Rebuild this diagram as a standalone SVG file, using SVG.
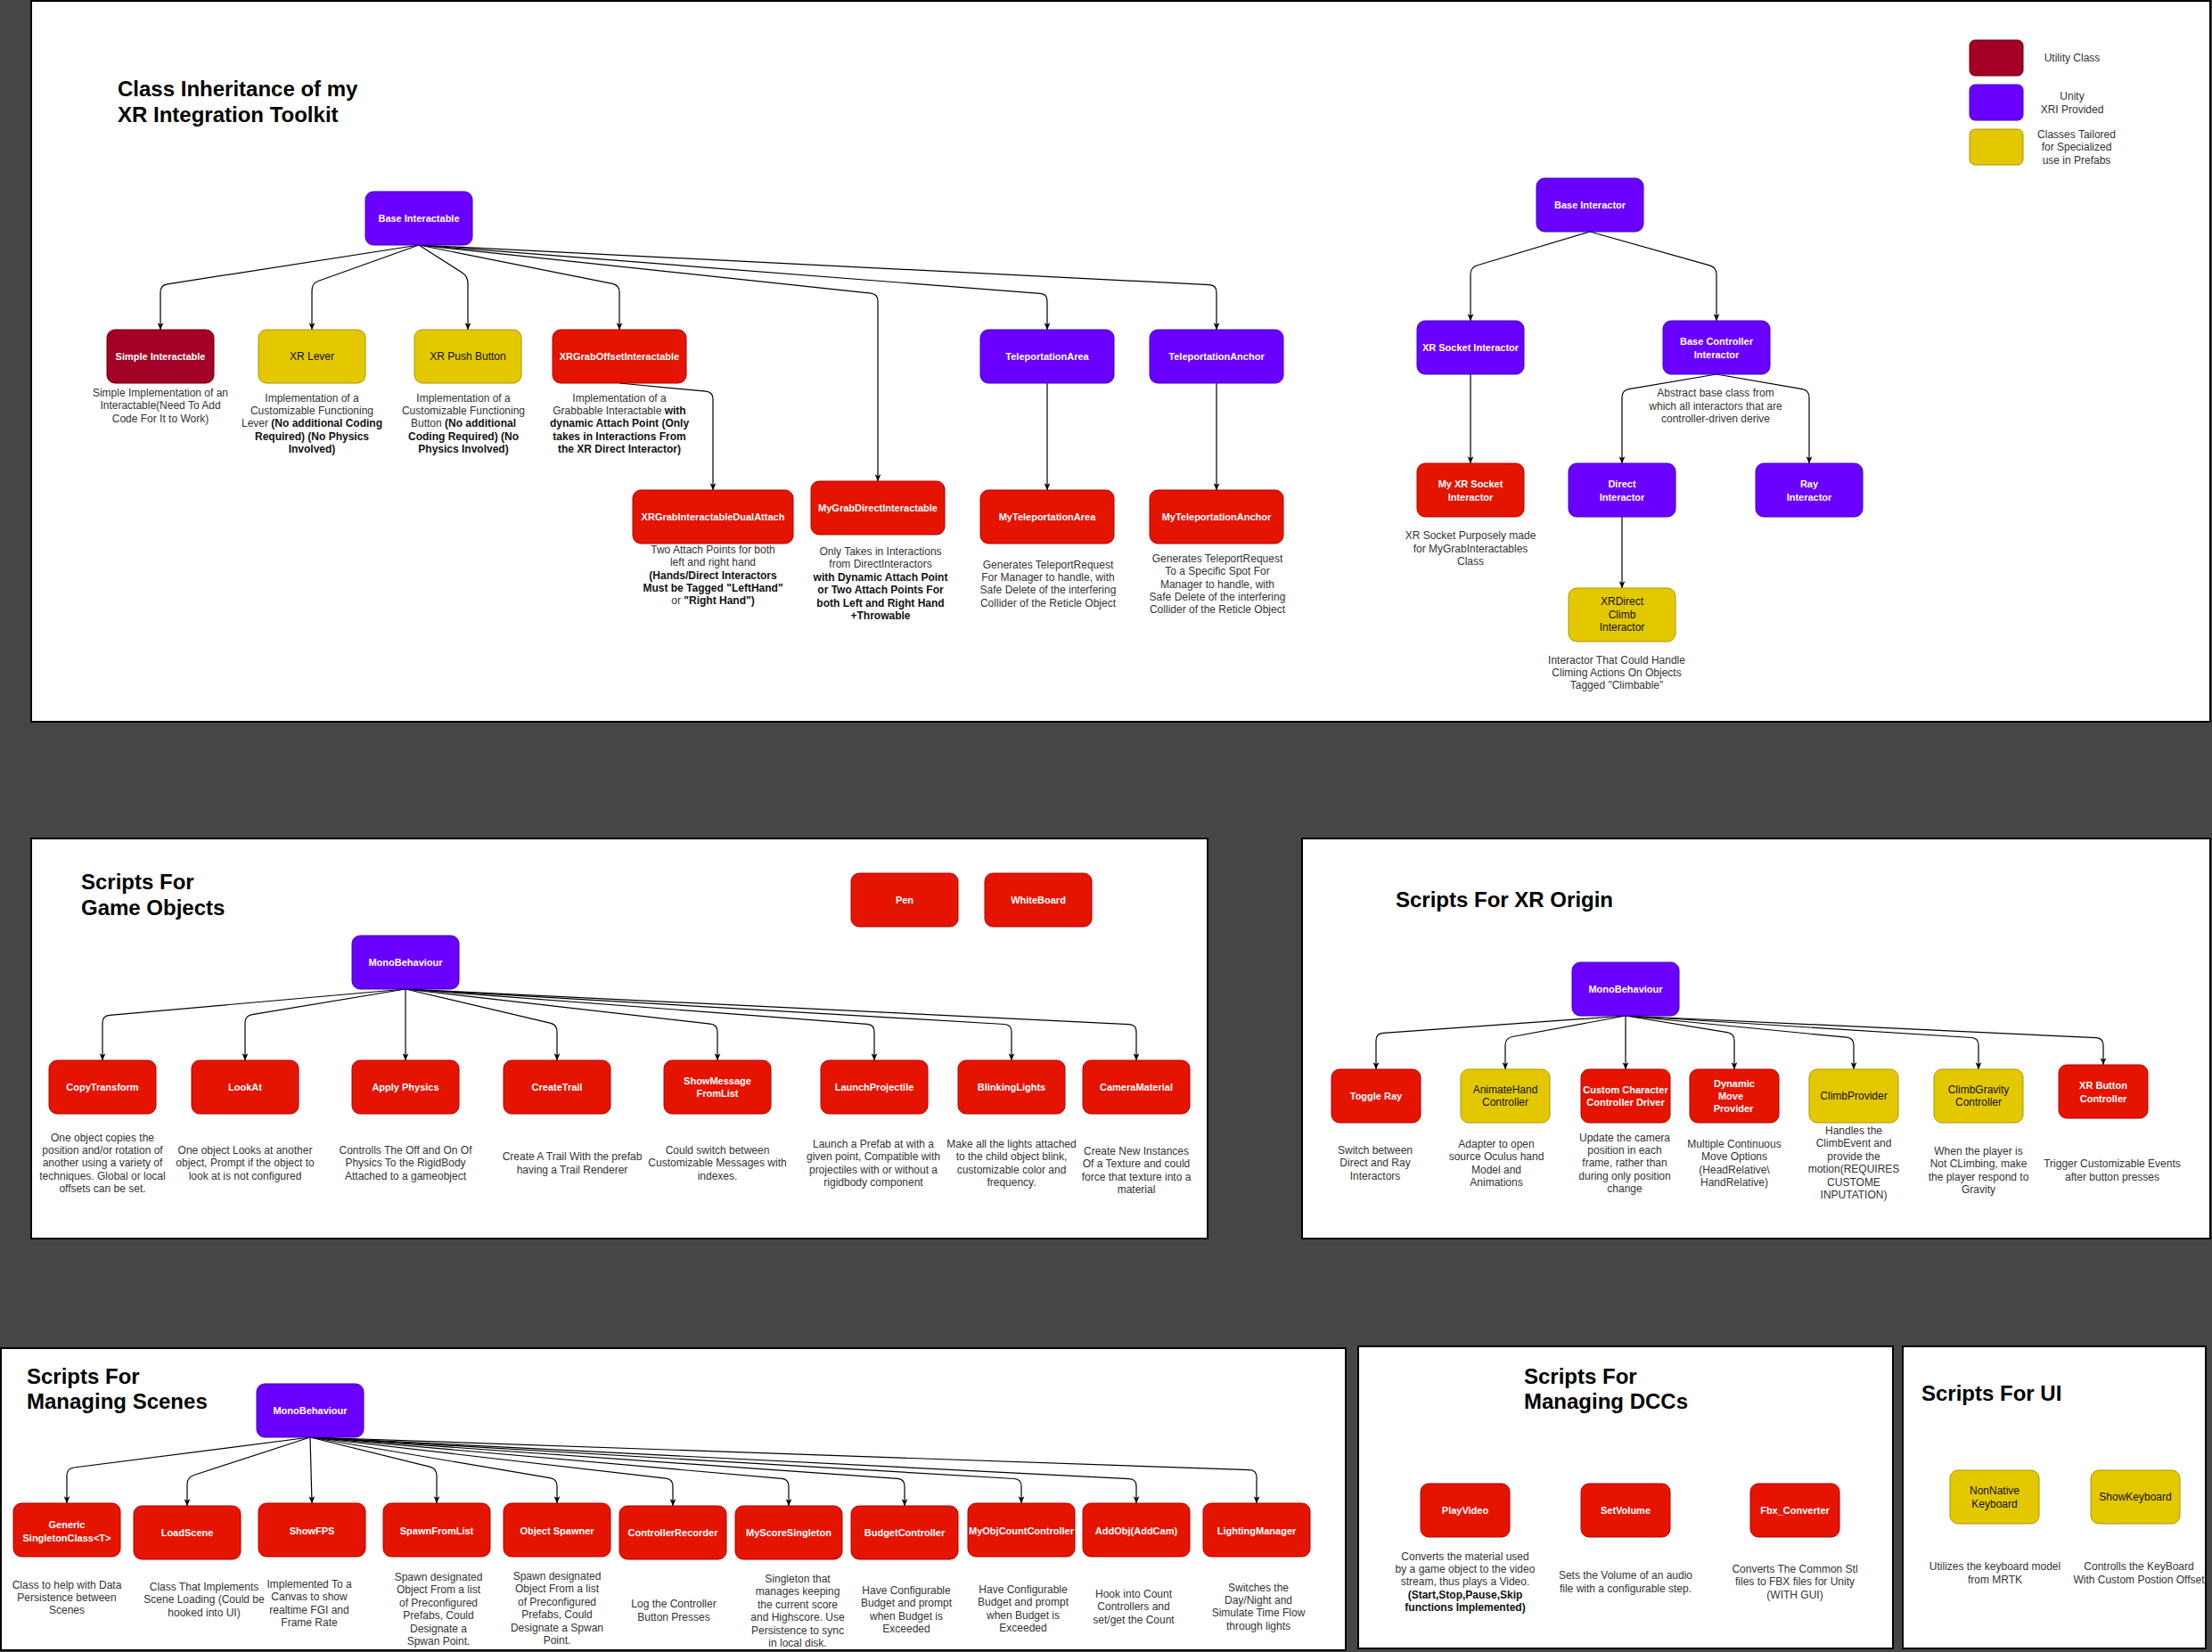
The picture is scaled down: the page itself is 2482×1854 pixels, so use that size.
<svg xmlns="http://www.w3.org/2000/svg" width="2482" height="1854" viewBox="0 0 2482 1854">
<defs>
<style>
text{font-family:"Liberation Sans",Arial,Helvetica,sans-serif}
.panel{fill:#fff;stroke:#000;stroke-width:2}
.purple{fill:#6a00ff;stroke:#3700cc;stroke-width:1}
.red{fill:#e51400;stroke:#b20000;stroke-width:1}
.dred{fill:#a20025;stroke:#6f0000;stroke-width:1}
.yel{fill:#e3c800;stroke:#b09500;stroke-width:1}
.lw{font-size:11px;font-weight:bold;fill:#fff;text-anchor:middle;dominant-baseline:central}
.lk{font-size:12px;fill:#111;text-anchor:middle;dominant-baseline:central}
.d{font-size:12px;fill:#333;text-anchor:middle}
.b{font-weight:bold;fill:#111}
.t{font-size:24px;font-weight:bold;fill:#000}
.lg{font-size:12px;fill:#333;text-anchor:middle}
.e{fill:none;stroke:#000;stroke-width:1.2;marker-end:url(#arr)}
</style>
<marker id="arr" viewBox="0 0 10 10" refX="9.6" refY="5" markerWidth="8" markerHeight="8" markerUnits="userSpaceOnUse" orient="auto">
<path d="M0,0.8 L10,5 L0,9.2 L2.5,5 z" fill="#000"/>
</marker>
</defs>

<rect width="2482" height="1854" fill="#464646"/>

<!-- section panels -->
<g id="panels">
<rect class="panel" x="35" y="1" width="2445" height="809"/>
<rect class="panel" x="35" y="941" width="1320" height="449"/>
<rect class="panel" x="1461" y="941" width="1019" height="449"/>
<rect class="panel" x="1" y="1513" width="1509" height="339"/>
<rect class="panel" x="1524" y="1511" width="600" height="339"/>
<rect class="panel" x="2135" y="1511" width="340" height="339"/>
</g>

<!-- section titles -->
<g id="titles">
<text class="t" x="132" y="108">Class Inheritance of my</text>
<text class="t" x="132" y="137">XR Integration Toolkit</text>
<text class="t" x="91" y="998">Scripts For</text>
<text class="t" x="91" y="1027">Game Objects</text>
<text class="t" x="1566" y="1018">Scripts For XR Origin</text>
<text class="t" x="30" y="1553">Scripts For</text>
<text class="t" x="30" y="1581">Managing Scenes</text>
<text class="t" x="1710" y="1553">Scripts For</text>
<text class="t" x="1710" y="1581">Managing DCCs</text>
<text class="t" x="2156" y="1572">Scripts For UI</text>
</g>

<!-- colour key -->
<g id="legend">
<rect class="dred" x="2210" y="45" width="60" height="40" rx="6"/>
<rect class="purple" x="2210" y="95" width="60" height="40" rx="6"/>
<rect class="yel" x="2210" y="145" width="60" height="40" rx="6"/>
<text class="lg" x="2325" y="68.5">Utility Class</text>
<text class="lg" x="2325" y="112"><tspan x="2325">Unity</tspan><tspan x="2325" dy="15">XRI Provided</tspan></text>
<text class="lg" x="2330" y="155"><tspan x="2330">Classes Tailored</tspan><tspan x="2330" dy="14.4">for Specialized</tspan><tspan x="2330" dy="14.4">use in Prefabs</tspan></text>
</g>

<!-- connectors -->
<g id="connectors">
<path class="e" d="M470,275 L187.9,318.8 Q180,320 180,328 L180,370"/>
<path class="e" d="M470,275 L357.5,315.3 Q350,318 350,326 L350,370"/>
<path class="e" d="M470,275 L518.2,305.7 Q525,310 525,318 L525,370"/>
<path class="e" d="M470,275 L687.2,318.4 Q695,320 695,328 L695,370"/>
<path class="e" d="M470,275 L977,329.2 Q985,330 985,338 L985,540"/>
<path class="e" d="M470,275 L1167,329.4 Q1175,330 1175,338 L1175,370"/>
<path class="e" d="M470,275 L1357,319.6 Q1365,320 1365,328 L1365,370"/>
<path class="e" d="M695,430 L792,439.2 Q800,440 800,448 L800,550"/>
<path class="e" d="M1175,430 L1175,550"/>
<path class="e" d="M1365,430 L1365,550"/>
<path class="e" d="M1784,260 L1657.7,297.7 Q1650,300 1650,308 L1650,360"/>
<path class="e" d="M1784,260 L1918.3,297.8 Q1926,300 1926,308 L1926,360"/>
<path class="e" d="M1650,420 L1650,520"/>
<path class="e" d="M1926,420 L1827.9,436.7 Q1820,438 1820,446 L1820,520"/>
<path class="e" d="M1926,420 L2022.1,436.6 Q2030,438 2030,446 L2030,520"/>
<path class="e" d="M1820,580 L1820,660"/>

<path class="e" d="M455,1110 L123,1139.3 Q115,1140 115,1148 L115,1190"/>
<path class="e" d="M455,1110 L282.9,1138.7 Q275,1140 275,1148 L275,1190"/>
<path class="e" d="M455,1110 L455,1190"/>
<path class="e" d="M455,1110 L617.2,1148.2 Q625,1150 625,1158 L625,1190"/>
<path class="e" d="M455,1110 L797.1,1149.1 Q805,1150 805,1158 L805,1190"/>
<path class="e" d="M455,1110 L973,1149.4 Q981,1150 981,1158 L981,1190"/>
<path class="e" d="M455,1110 L1127,1149.5 Q1135,1150 1135,1158 L1135,1190"/>
<path class="e" d="M455,1110 L1267,1149.6 Q1275,1150 1275,1158 L1275,1190"/>

<path class="e" d="M1824,1140 L1552,1159.4 Q1544,1160 1544,1168 L1544,1200"/>
<path class="e" d="M1824,1140 L1696.9,1163.5 Q1689,1165 1689,1173 L1689,1200"/>
<path class="e" d="M1824,1140 L1824,1200"/>
<path class="e" d="M1824,1140 L1938.1,1158.7 Q1946,1160 1946,1168 L1946,1200"/>
<path class="e" d="M1824,1140 L2072,1164.2 Q2080,1165 2080,1173 L2080,1200"/>
<path class="e" d="M1824,1140 L2212,1164.5 Q2220,1165 2220,1173 L2220,1200"/>
<path class="e" d="M1824,1140 L2352,1164.6 Q2360,1165 2360,1173 L2360,1195"/>

<path class="e" d="M348,1613 L82.9,1647 Q75,1648 75,1656 L75,1687"/>
<path class="e" d="M348,1613 L217.6,1655.5 Q210,1658 210,1666 L210,1690"/>
<path class="e" d="M348,1613 L350,1687"/>
<path class="e" d="M348,1613 L482.2,1646.1 Q490,1648 490,1656 L490,1687"/>
<path class="e" d="M348,1613 L617.1,1658.7 Q625,1660 625,1668 L625,1687"/>
<path class="e" d="M348,1613 L747.1,1659.1 Q755,1660 755,1668 L755,1690"/>
<path class="e" d="M348,1613 L877,1659.3 Q885,1660 885,1668 L885,1690"/>
<path class="e" d="M348,1613 L1007,1659.4 Q1015,1660 1015,1668 L1015,1690"/>
<path class="e" d="M348,1613 L1138,1659.5 Q1146,1660 1146,1668 L1146,1687"/>
<path class="e" d="M348,1613 L1267,1659.6 Q1275,1660 1275,1668 L1275,1687"/>
<path class="e" d="M348,1613 L1402,1649.7 Q1410,1650 1410,1658 L1410,1687"/>
</g>

<!-- class inheritance: interactables -->
<g id="base-interactable">
<rect class="purple" x="410" y="215" width="120" height="60" rx="9"/>
<text class="lw" x="470" y="245">Base Interactable</text>
</g>
<g id="simple-interactable">
<rect class="dred" x="120" y="370" width="120" height="60" rx="9"/>
<text class="lw" x="180" y="400">Simple Interactable</text>
<text class="d" x="180" y="445"><tspan x="180">Simple Implementation of an</tspan><tspan x="180" dy="14.4">Interactable(Need To Add</tspan><tspan x="180" dy="14.4">Code For It to Work)</tspan></text>
</g>
<g id="xr-lever">
<rect class="yel" x="290" y="370" width="120" height="60" rx="9"/>
<text class="lk" x="350" y="400">XR Lever</text>
<text class="d" x="350" y="451"><tspan x="350">Implementation of a</tspan><tspan x="350" dy="14.2">Customizable Functioning</tspan><tspan x="350" dy="14.2">Lever <tspan class="b">(No additional Coding</tspan></tspan><tspan x="350" dy="14.2" class="b">Required) (No Physics</tspan><tspan x="350" dy="14.2" class="b">Involved)</tspan></text>
</g>
<g id="xr-push-button">
<rect class="yel" x="465" y="370" width="120" height="60" rx="9"/>
<text class="lk" x="525" y="400">XR Push Button</text>
<text class="d" x="520" y="451"><tspan x="520">Implementation of a</tspan><tspan x="520" dy="14.2">Customizable Functioning</tspan><tspan x="520" dy="14.2">Button <tspan class="b">(No additional</tspan></tspan><tspan x="520" dy="14.2" class="b">Coding Required) (No</tspan><tspan x="520" dy="14.2" class="b">Physics Involved)</tspan></text>
</g>
<g id="xr-grab-offset-interactable">
<rect class="red" x="620" y="370" width="150" height="60" rx="9"/>
<text class="lw" x="695" y="400">XRGrabOffsetInteractable</text>
<text class="d" x="695" y="451"><tspan x="695">Implementation of a</tspan><tspan x="695" dy="14.2">Grabbable Interactable <tspan class="b">with</tspan></tspan><tspan x="695" dy="14.2" class="b">dynamic Attach Point (Only</tspan><tspan x="695" dy="14.2" class="b">takes in Interactions From</tspan><tspan x="695" dy="14.2" class="b">the XR Direct Interactor)</tspan></text>
</g>
<g id="xr-grab-interactable-dual-attach">
<rect class="red" x="710" y="550" width="180" height="60" rx="9"/>
<text class="lw" x="800" y="580">XRGrabInteractableDualAttach</text>
<text class="d" x="800" y="621"><tspan x="800">Two Attach Points for both</tspan><tspan x="800" dy="14.3">left and right hand</tspan><tspan x="800" dy="14.3" class="b">(Hands/Direct Interactors</tspan><tspan x="800" dy="14.3" class="b">Must be Tagged "LeftHand"</tspan><tspan x="800" dy="14.3">or <tspan class="b">"Right Hand")</tspan></tspan></text>
</g>
<g id="my-grab-direct-interactable">
<rect class="red" x="910" y="540" width="150" height="60" rx="9"/>
<text class="lw" x="985" y="570">MyGrabDirectInteractable</text>
<text class="d" x="988" y="623"><tspan x="988">Only Takes in Interactions</tspan><tspan x="988" dy="14.4">from DirectInteractors</tspan><tspan x="988" dy="14.4" class="b">with Dynamic Attach Point</tspan><tspan x="988" dy="14.4" class="b">or Two Attach Points For</tspan><tspan x="988" dy="14.4" class="b">both Left and Right Hand</tspan><tspan x="988" dy="14.4" class="b">+Throwable</tspan></text>
</g>
<g id="teleportation-area">
<rect class="purple" x="1100" y="370" width="150" height="60" rx="9"/>
<text class="lw" x="1175" y="400">TeleportationArea</text>
</g>
<g id="teleportation-anchor">
<rect class="purple" x="1290" y="370" width="150" height="60" rx="9"/>
<text class="lw" x="1365" y="400">TeleportationAnchor</text>
</g>
<g id="my-teleportation-area">
<rect class="red" x="1100" y="550" width="150" height="60" rx="9"/>
<text class="lw" x="1175" y="580">MyTeleportationArea</text>
<text class="d" x="1176" y="637.5"><tspan x="1176">Generates TeleportRequest</tspan><tspan x="1176" dy="14.4">For Manager to handle, with</tspan><tspan x="1176" dy="14.4">Safe Delete of the interfering</tspan><tspan x="1176" dy="14.4">Collider of the Reticle Object</tspan></text>
</g>
<g id="my-teleportation-anchor">
<rect class="red" x="1290" y="550" width="150" height="60" rx="9"/>
<text class="lw" x="1365" y="580">MyTeleportationAnchor</text>
<text class="d" x="1366" y="631"><tspan x="1366">Generates TeleportRequest</tspan><tspan x="1366" dy="14.3">To a Specific Spot For</tspan><tspan x="1366" dy="14.3">Manager to handle, with</tspan><tspan x="1366" dy="14.3">Safe Delete of the interfering</tspan><tspan x="1366" dy="14.3">Collider of the Reticle Object</tspan></text>
</g>

<!-- class inheritance: interactors -->
<g id="base-interactor">
<rect class="purple" x="1724" y="200" width="120" height="60" rx="9"/>
<text class="lw" x="1784" y="230">Base Interactor</text>
</g>
<g id="xr-socket-interactor">
<rect class="purple" x="1590" y="360" width="120" height="60" rx="9"/>
<text class="lw" x="1650" y="390">XR Socket Interactor</text>
</g>
<g id="base-controller-interactor">
<rect class="purple" x="1866" y="360" width="120" height="60" rx="9"/>
<text class="lw"><tspan x="1926" y="382.5">Base Controller</tspan><tspan x="1926" y="397.5">Interactor</tspan></text>
<text class="d" x="1925" y="445"><tspan x="1925">Abstract base class from</tspan><tspan x="1925" dy="14.6">which all interactors that are</tspan><tspan x="1925" dy="14.6">controller-driven derive</tspan></text>
</g>
<g id="my-xr-socket-interactor">
<rect class="red" x="1590" y="520" width="120" height="60" rx="9"/>
<text class="lw"><tspan x="1650" y="542.6">My XR Socket</tspan><tspan x="1650" y="557.6">Interactor</tspan></text>
<text class="d" x="1650" y="605"><tspan x="1650">XR Socket Purposely made</tspan><tspan x="1650" dy="14.5">for MyGrabInteractables</tspan><tspan x="1650" dy="14.5">Class</tspan></text>
</g>
<g id="direct-interactor">
<rect class="purple" x="1760" y="520" width="120" height="60" rx="9"/>
<text class="lw"><tspan x="1820" y="542.6">Direct</tspan><tspan x="1820" y="557.6">Interactor</tspan></text>
</g>
<g id="ray-interactor">
<rect class="purple" x="1970" y="520" width="120" height="60" rx="9"/>
<text class="lw"><tspan x="2030" y="542.6">Ray</tspan><tspan x="2030" y="557.6">Interactor</tspan></text>
</g>
<g id="xr-direct-climb-interactor">
<rect class="yel" x="1760" y="660" width="120" height="60" rx="9"/>
<text class="lk"><tspan x="1820" y="675.4">XRDirect</tspan><tspan x="1820" y="689.8">Climb</tspan><tspan x="1820" y="704.3">Interactor</tspan></text>
<text class="d" x="1814" y="745"><tspan x="1814">Interactor That Could Handle</tspan><tspan x="1814" dy="14.2">Climing Actions On Objects</tspan><tspan x="1814" dy="14.2">Tagged "Climbable"</tspan></text>
</g>

<!-- scripts for game objects -->
<g id="go-monobehaviour">
<rect class="purple" x="395" y="1050" width="120" height="60" rx="9"/>
<text class="lw" x="455" y="1080">MonoBehaviour</text>
</g>
<g id="pen">
<rect class="red" x="955" y="980" width="120" height="60" rx="9"/>
<text class="lw" x="1015" y="1010">Pen</text>
</g>
<g id="whiteboard">
<rect class="red" x="1105" y="980" width="120" height="60" rx="9"/>
<text class="lw" x="1165" y="1010">WhiteBoard</text>
</g>
<g id="copy-transform">
<rect class="red" x="55" y="1190" width="120" height="60" rx="9"/>
<text class="lw" x="115" y="1220">CopyTransform</text>
<text class="d" x="115" y="1281"><tspan x="115">One object copies the</tspan><tspan x="115" dy="14.2">position and/or rotation of</tspan><tspan x="115" dy="14.2">another using a variety of</tspan><tspan x="115" dy="14.2">techniques. Global or local</tspan><tspan x="115" dy="14.2">offsets can be set.</tspan></text>
</g>
<g id="look-at">
<rect class="red" x="215" y="1190" width="120" height="60" rx="9"/>
<text class="lw" x="275" y="1220">LookAt</text>
<text class="d" x="275" y="1295"><tspan x="275">One object Looks at another</tspan><tspan x="275" dy="14.3">object, Prompt if the object to</tspan><tspan x="275" dy="14.3">look at is not configured</tspan></text>
</g>
<g id="apply-physics">
<rect class="red" x="395" y="1190" width="120" height="60" rx="9"/>
<text class="lw" x="455" y="1220">Apply Physics</text>
<text class="d" x="455" y="1295"><tspan x="455">Controlls The Off and On Of</tspan><tspan x="455" dy="14.3">Physics To the RigidBody</tspan><tspan x="455" dy="14.3">Attached to a gameobject</tspan></text>
</g>
<g id="create-trail">
<rect class="red" x="565" y="1190" width="120" height="60" rx="9"/>
<text class="lw" x="625" y="1220">CreateTrail</text>
<text class="d" x="642" y="1302"><tspan x="642">Create A Trail With the prefab</tspan><tspan x="642" dy="14.6">having a Trail Renderer</tspan></text>
</g>
<g id="show-message-from-list">
<rect class="red" x="745" y="1190" width="120" height="60" rx="9"/>
<text class="lw"><tspan x="805" y="1212.7">ShowMessage</tspan><tspan x="805" y="1227.3">FromList</tspan></text>
<text class="d" x="805" y="1295"><tspan x="805">Could switch between</tspan><tspan x="805" dy="14.3">Customizable Messages with</tspan><tspan x="805" dy="14.3">indexes.</tspan></text>
</g>
<g id="launch-projectile">
<rect class="red" x="921" y="1190" width="120" height="60" rx="9"/>
<text class="lw" x="981" y="1220">LaunchProjectile</text>
<text class="d" x="980" y="1288"><tspan x="980">Launch a Prefab at with a</tspan><tspan x="980" dy="14.3">given point, Compatible with</tspan><tspan x="980" dy="14.3">projectiles with or without a</tspan><tspan x="980" dy="14.3">rigidbody component</tspan></text>
</g>
<g id="blinking-lights">
<rect class="red" x="1075" y="1190" width="120" height="60" rx="9"/>
<text class="lw" x="1135" y="1220">BlinkingLights</text>
<text class="d" x="1135" y="1288"><tspan x="1135">Make all the lights attached</tspan><tspan x="1135" dy="14.3">to the child object  blink,</tspan><tspan x="1135" dy="14.3">customizable color and</tspan><tspan x="1135" dy="14.3">frequency.</tspan></text>
</g>
<g id="camera-material">
<rect class="red" x="1215" y="1190" width="120" height="60" rx="9"/>
<text class="lw" x="1275" y="1220">CameraMaterial</text>
<text class="d" x="1275" y="1296"><tspan x="1275">Create New Instances</tspan><tspan x="1275" dy="14.3">Of a Texture and could</tspan><tspan x="1275" dy="14.3">force that texture into a</tspan><tspan x="1275" dy="14.3">material</tspan></text>
</g>

<!-- scripts for XR origin -->
<g id="xr-monobehaviour">
<rect class="purple" x="1764" y="1080" width="120" height="60" rx="9"/>
<text class="lw" x="1824" y="1110">MonoBehaviour</text>
</g>
<g id="toggle-ray">
<rect class="red" x="1494" y="1200" width="100" height="60" rx="9"/>
<text class="lw" x="1544" y="1230">Toggle Ray</text>
<text class="d" x="1543" y="1295"><tspan x="1543">Switch between</tspan><tspan x="1543" dy="14.3">Direct and Ray</tspan><tspan x="1543" dy="14.3">Interactors</tspan></text>
</g>
<g id="animate-hand-controller">
<rect class="yel" x="1639" y="1200" width="100" height="60" rx="9"/>
<text class="lk"><tspan x="1689" y="1222.7">AnimateHand</tspan><tspan x="1689" y="1237.3">Controller</tspan></text>
<text class="d" x="1679" y="1288"><tspan x="1679">Adapter to open</tspan><tspan x="1679" dy="14.3">source Oculus hand</tspan><tspan x="1679" dy="14.3">Model and</tspan><tspan x="1679" dy="14.3">Animations</tspan></text>
</g>
<g id="custom-character-controller-driver">
<rect class="red" x="1774" y="1200" width="100" height="60" rx="9"/>
<text class="lw"><tspan x="1824" y="1222.7">Custom Character</tspan><tspan x="1824" y="1237.3">Controller Driver</tspan></text>
<text class="d" x="1823" y="1281"><tspan x="1823">Update the camera</tspan><tspan x="1823" dy="14.2">position in each</tspan><tspan x="1823" dy="14.2">frame, rather than</tspan><tspan x="1823" dy="14.2">during only position</tspan><tspan x="1823" dy="14.2">change</tspan></text>
</g>
<g id="dynamic-move-provider">
<rect class="red" x="1896" y="1200" width="100" height="60" rx="9"/>
<text class="lw"><tspan x="1946" y="1215.7">Dynamic</tspan><tspan x="1942" y="1229.7">Move</tspan><tspan x="1945" y="1244.3">Provider</tspan></text>
<text class="d" x="1946" y="1288"><tspan x="1946">Multiple Continuous</tspan><tspan x="1946" dy="14.3">Move Options</tspan><tspan x="1946" dy="14.3">(HeadRelative\</tspan><tspan x="1946" dy="14.3">HandRelative)</tspan></text>
</g>
<g id="climb-provider">
<rect class="yel" x="2030" y="1200" width="100" height="60" rx="9"/>
<text class="lk" x="2080" y="1230">ClimbProvider</text>
<text class="d" x="2080" y="1273"><tspan x="2080">Handles the</tspan><tspan x="2080" dy="14.4">ClimbEvent and</tspan><tspan x="2080" dy="14.4">provide the</tspan><tspan x="2080" dy="14.4">motion(REQUIRES</tspan><tspan x="2080" dy="14.4">CUSTOME</tspan><tspan x="2080" dy="14.4">INPUTATION)</tspan></text>
</g>
<g id="climb-gravity-controller">
<rect class="yel" x="2170" y="1200" width="100" height="60" rx="9"/>
<text class="lk"><tspan x="2220" y="1222.7">ClimbGravity</tspan><tspan x="2220" y="1237.3">Controller</tspan></text>
<text class="d" x="2220" y="1296"><tspan x="2220">When the player is</tspan><tspan x="2220" dy="14.3">Not CLimbing, make</tspan><tspan x="2220" dy="14.3">the player respond to</tspan><tspan x="2220" dy="14.3">Gravity</tspan></text>
</g>
<g id="xr-button-controller">
<rect class="red" x="2310" y="1195" width="100" height="60" rx="9"/>
<text class="lw"><tspan x="2360" y="1217.7">XR Button</tspan><tspan x="2360" y="1232.7">Controller</tspan></text>
<text class="d" x="2370" y="1310"><tspan x="2370">Trigger Customizable Events</tspan><tspan x="2370" dy="14.6">after button presses</tspan></text>
</g>

<!-- scripts for managing scenes -->
<g id="scene-monobehaviour">
<rect class="purple" x="288" y="1553" width="120" height="60" rx="9"/>
<text class="lw" x="348" y="1583">MonoBehaviour</text>
</g>
<g id="generic-singleton">
<rect class="red" x="15" y="1687" width="120" height="60" rx="9"/>
<text class="lw"><tspan x="75" y="1710.7">Generic</tspan><tspan x="75" y="1725.7">SingletonClass&lt;T&gt;</tspan></text>
<text class="d" x="75" y="1782.5"><tspan x="75">Class to help with Data</tspan><tspan x="75" dy="14.4">Persistence between</tspan><tspan x="75" dy="14.4">Scenes</tspan></text>
</g>
<g id="load-scene">
<rect class="red" x="150" y="1690" width="120" height="60" rx="9"/>
<text class="lw" x="210" y="1720">LoadScene</text>
<text class="d" x="229" y="1785"><tspan x="229">Class That Implements</tspan><tspan x="229" dy="14.4">Scene Loading (Could be</tspan><tspan x="229" dy="14.4">hooked into UI)</tspan></text>
</g>
<g id="show-fps">
<rect class="red" x="290" y="1687" width="120" height="60" rx="9"/>
<text class="lw" x="350" y="1717.7">ShowFPS</text>
<text class="d" x="347" y="1782"><tspan x="347">Implemented To a</tspan><tspan x="347" dy="14.3">Canvas to show</tspan><tspan x="347" dy="14.3">realtime FGI and</tspan><tspan x="347" dy="14.3">Frame Rate</tspan></text>
</g>
<g id="spawn-from-list">
<rect class="red" x="430" y="1687" width="120" height="60" rx="9"/>
<text class="lw" x="490" y="1717.7">SpawnFromList</text>
<text class="d" x="492" y="1774"><tspan x="492">Spawn designated</tspan><tspan x="492" dy="14.4">Object From a list</tspan><tspan x="492" dy="14.4">of Preconfigured</tspan><tspan x="492" dy="14.4">Prefabs, Could</tspan><tspan x="492" dy="14.4">Designate a</tspan><tspan x="492" dy="14.4">Spwan Point.</tspan></text>
</g>
<g id="object-spawner">
<rect class="red" x="565" y="1687" width="120" height="60" rx="9"/>
<text class="lw" x="625" y="1717.7">Object Spawner</text>
<text class="d" x="625" y="1773"><tspan x="625">Spawn designated</tspan><tspan x="625" dy="14.4">Object From a list</tspan><tspan x="625" dy="14.4">of Preconfigured</tspan><tspan x="625" dy="14.4">Prefabs, Could</tspan><tspan x="625" dy="14.4">Designate a Spwan</tspan><tspan x="625" dy="14.4">Point.</tspan></text>
</g>
<g id="controller-recorder">
<rect class="red" x="695" y="1690" width="120" height="60" rx="9"/>
<text class="lw" x="755" y="1720">ControllerRecorder</text>
<text class="d" x="756" y="1804"><tspan x="756">Log the Controller</tspan><tspan x="756" dy="14.6">Button Presses</tspan></text>
</g>
<g id="my-score-singleton">
<rect class="red" x="825" y="1690" width="120" height="60" rx="9"/>
<text class="lw" x="885" y="1720">MyScoreSingleton</text>
<text class="d" x="895" y="1776"><tspan x="895">Singleton that</tspan><tspan x="895" dy="14.4">manages keeping</tspan><tspan x="895" dy="14.4">the current score</tspan><tspan x="895" dy="14.4">and Highscore. Use</tspan><tspan x="895" dy="14.4">Persistence to sync</tspan><tspan x="895" dy="14.4">in local disk.</tspan></text>
</g>
<g id="budget-controller">
<rect class="red" x="955" y="1690" width="120" height="60" rx="9"/>
<text class="lw" x="1015" y="1720">BudgetController</text>
<text class="d" x="1017" y="1789"><tspan x="1017">Have Configurable</tspan><tspan x="1017" dy="14.3">Budget and prompt</tspan><tspan x="1017" dy="14.3">when Budget is</tspan><tspan x="1017" dy="14.3">Exceeded</tspan></text>
</g>
<g id="my-obj-count-controller">
<rect class="red" x="1086" y="1687" width="120" height="60" rx="9"/>
<text class="lw" x="1146" y="1717.7">MyObjCountController</text>
<text class="d" x="1148" y="1788"><tspan x="1148">Have Configurable</tspan><tspan x="1148" dy="14.3">Budget and prompt</tspan><tspan x="1148" dy="14.3">when Budget is</tspan><tspan x="1148" dy="14.3">Exceeded</tspan></text>
</g>
<g id="add-obj">
<rect class="red" x="1215" y="1687" width="120" height="60" rx="9"/>
<text class="lw" x="1275" y="1717.7">AddObj(AddCam)</text>
<text class="d" x="1272" y="1792.5"><tspan x="1272">Hook into Count</tspan><tspan x="1272" dy="14.5">Controllers and</tspan><tspan x="1272" dy="14.5">set/get the Count</tspan></text>
</g>
<g id="lighting-manager">
<rect class="red" x="1350" y="1687" width="120" height="60" rx="9"/>
<text class="lw" x="1410" y="1717.7">LightingManager</text>
<text class="d" x="1412" y="1786"><tspan x="1412">Switches the</tspan><tspan x="1412" dy="14.2">Day/Night and</tspan><tspan x="1412" dy="14.2">Simulate Time Flow</tspan><tspan x="1412" dy="14.2">through lights</tspan></text>
</g>

<!-- scripts for managing DCCs -->
<g id="play-video">
<rect class="red" x="1594" y="1665" width="100" height="60" rx="9"/>
<text class="lw" x="1644" y="1695">PlayVideo</text>
<text class="d" x="1644" y="1751"><tspan x="1644">Converts the material used</tspan><tspan x="1644" dy="14.2">by a game object to the video</tspan><tspan x="1644" dy="14.2">stream, thus plays a Video.</tspan><tspan x="1644" dy="14.2" class="b">(Start,Stop,Pause,Skip</tspan><tspan x="1644" dy="14.2" class="b">functions Implemented)</tspan></text>
</g>
<g id="set-volume">
<rect class="red" x="1774" y="1665" width="100" height="60" rx="9"/>
<text class="lw" x="1824" y="1695">SetVolume</text>
<text class="d" x="1824" y="1772"><tspan x="1824">Sets the Volume of an audio</tspan><tspan x="1824" dy="15.2">file with a configurable step.</tspan></text>
</g>
<g id="fbx-converter">
<rect class="red" x="1964" y="1665" width="100" height="60" rx="9"/>
<text class="lw" x="2014" y="1695">Fbx_Converter</text>
<text class="d" x="2014" y="1764.5"><tspan x="2014">Converts The Common Stl</tspan><tspan x="2014" dy="14.6">files to FBX files for Unity</tspan><tspan x="2014" dy="14.6">(WITH GUI)</tspan></text>
</g>

<!-- scripts for UI -->
<g id="non-native-keyboard">
<rect class="yel" x="2188" y="1650" width="100" height="60" rx="9"/>
<text class="lk"><tspan x="2238" y="1672.7">NonNative</tspan><tspan x="2238" y="1687.7">Keyboard</tspan></text>
<text class="d" x="2238.5" y="1762"><tspan x="2238.5">Utilizes the keyboard model</tspan><tspan x="2238.5" dy="15">from MRTK</tspan></text>
</g>
<g id="show-keyboard">
<rect class="yel" x="2346" y="1650" width="100" height="60" rx="9"/>
<text class="lk" x="2396" y="1680">ShowKeyboard</text>
<text class="d" x="2400" y="1762"><tspan x="2400">Controlls the KeyBoard</tspan><tspan x="2400" dy="15">With Custom Postion Offset</tspan></text>
</g>
</svg>
